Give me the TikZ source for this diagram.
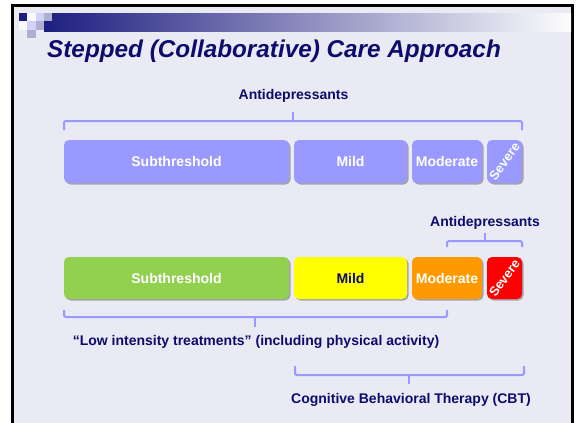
\documentclass[tikz,border=0pt]{standalone}
\usepackage{fontspec}
\setmainfont{Liberation Sans}
\usetikzlibrary{shadows}

\definecolor{slidenavy}{HTML}{0C0C6C}
\definecolor{slidebg}{HTML}{EAEAF4}
\definecolor{bandnavy}{HTML}{1E1E80}
\definecolor{stepblue}{HTML}{9999FF}
\definecolor{stepgreen}{HTML}{92D050}
\definecolor{stepyellow}{HTML}{FFFF00}
\definecolor{steporange}{HTML}{FF9900}
\definecolor{stepred}{HTML}{FF0000}

\tikzset{
  stepbox/.style={rounded corners=5pt, inner sep=0pt, minimum height=43pt,
    text=white, font=\fontsize{14}{16}\selectfont\bfseries,
    drop shadow={shadow xshift=1.5pt, shadow yshift=-1.5pt, fill=black, opacity=0.3}},
  brace/.style={draw=stepblue, line width=2pt, rounded corners=2pt},
  caption/.style={text=slidenavy, font=\fontsize{14}{16}\selectfont\bfseries},
  sevlabel/.style={text=white, inner sep=0pt, rotate=54, font=\fontsize{13}{15}\selectfont\bfseries}
}

\begin{document}
\begin{tikzpicture}[x=1pt,y=-1pt]
\useasboundingbox (0,0) rectangle (579,423);
\fill[white] (0,0) rectangle (579,423);
% slide and frame
\fill[slidebg] (12.5,5) rectangle (572.5,440);
\draw[line width=3pt] (12.5,440) -- (12.5,5) -- (572.5,5) -- (572.5,440);
% header band with squares
\shade[left color=bandnavy, right color=white!90!slidebg] (44,13) rectangle (571,31);
\foreach \c/\r/\col in {0/0/bandnavy, 1/0/white!70!slidebg, 2/0/stepblue!30!slidebg, 3/0/stepblue!50!gray!70,
                        0/1/white!70!slidebg, 1/1/stepblue!30!slidebg, 2/1/stepblue!50!gray!70,
                        1/2/stepblue!50!gray!70}{
  \fill[\col] ({19+\c*8.3},{13+\r*8.3}) rectangle +(8.3,8.3);}
\node[anchor=base west, inner sep=0pt, text=slidenavy,
  font=\fontsize{24.3}{28}\selectfont\bfseries\itshape] (title) at (47,57) {Stepped (Collaborative) Care Approach};

% top row
\node[caption] (ad1) at (293.5,96) {Antidepressants};
\draw[brace] (64,130) -- (64,121) -- (522,121) -- (522,130);
\draw[brace] (293,121) -- (293,112);
\foreach \name/\cx/\w/\txt in {sub/176.5/225/Subthreshold, mild/350.5/113/Mild, mod/447/70/Moderate, sev/504.5/35/{}}{
  \node[stepbox, fill=stepblue, minimum width=\w pt] (\name1) at (\cx,161.5) {\txt};}
\node[sevlabel] (sevtxt1) at (sev1.center) {Severe};

% bottom row
\node[caption] (ad2) at (485,223) {Antidepressants};
\draw[brace] (447,247) -- (447,241) -- (522,241) -- (522,247);
\draw[brace] (485,241) -- (485,233);
\node[stepbox, fill=stepgreen, minimum width=225pt, minimum height=42pt] (sub2) at (176.5,278) {Subthreshold};
\node[stepbox, fill=stepyellow, text=slidenavy, minimum width=113pt, minimum height=42pt] (mild2) at (350.5,278) {Mild};
\node[stepbox, fill=steporange, minimum width=70pt, minimum height=42pt] (mod2) at (447,278) {Moderate};
\node[stepbox, fill=stepred, minimum width=35pt, minimum height=42pt] (sev2) at (504.5,278) {};
\node[sevlabel] (sevtxt2) at (sev2.center) {Severe};

\draw[brace] (64,310) -- (64,317) -- (447,317) -- (447,310);
\draw[brace] (255,317) -- (255,327);
\node[caption] (low) at (256,342) {“Low intensity treatments” (including physical activity)};

\draw[brace] (295,366) -- (295,375) -- (524,375) -- (524,366);
\draw[brace] (409,375) -- (409,384);
\node[caption] (cbt) at (411,400) {Cognitive Behavioral Therapy (CBT)};
\end{tikzpicture}
\end{document}
